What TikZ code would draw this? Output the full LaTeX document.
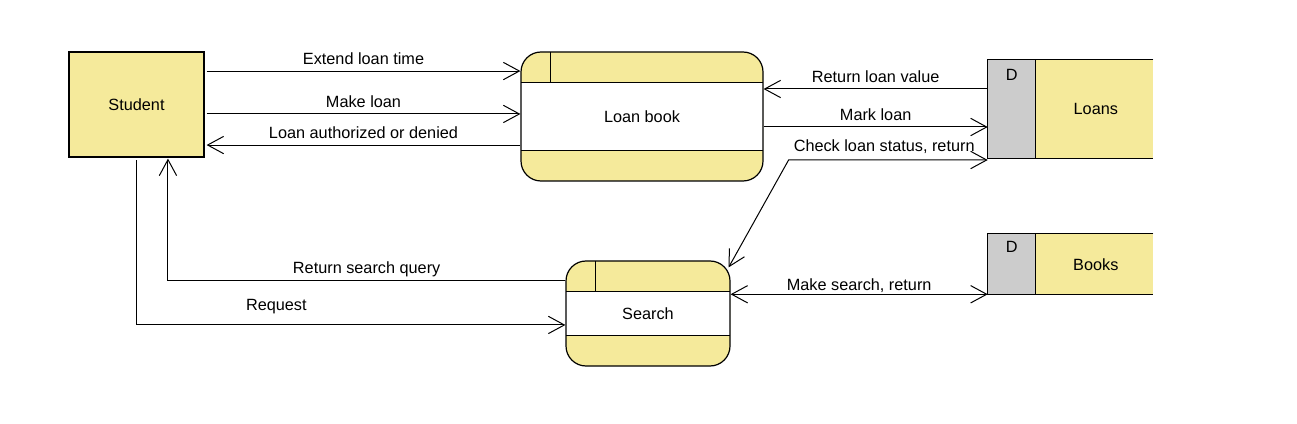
\documentclass[tikz,border=0pt]{standalone}
\usepackage{fontspec}
\setmainfont{Liberation Sans}
\usetikzlibrary{arrows.meta,calc}
\definecolor{yfill}{HTML}{F5EA9B}
\definecolor{gfill}{HTML}{CCCCCC}
\begin{document}
\begin{tikzpicture}[x=0.75pt,y=-0.75pt,
 every node/.style={font=\fontsize{12.2}{14}\selectfont},
 ent/.style={draw, fill=yfill, line width=0.9pt, inner sep=0pt},
 proc/.style={draw, fill=yfill, line width=0.9pt, rounded corners=15pt, inner sep=0pt,
   path picture={
     \fill[white, sharp corners] ([yshift=-23pt]path picture bounding box.north west) rectangle ([yshift=23pt]path picture bounding box.south east);
     \draw[line width=0.9pt, sharp corners] ([yshift=-23pt]path picture bounding box.north west) -- ([yshift=-23pt]path picture bounding box.north east);
     \draw[line width=0.9pt, sharp corners] ([yshift=23pt]path picture bounding box.south west) -- ([yshift=23pt]path picture bounding box.south east);
     \draw[line width=0.9pt, sharp corners] ([xshift=22pt]path picture bounding box.north west) -- ([xshift=22pt,yshift=-23pt]path picture bounding box.north west);
   }},
 store/.style={fill=yfill, inner sep=0pt, minimum width=123.75pt},
 sline/.style={line width=0.9pt},
 arr/.style={line width=0.75pt, -{Straight Barb[length=12pt,width=13pt]}},
 arrb/.style={line width=0.75pt, {Straight Barb[length=12pt,width=13pt]}-{Straight Barb[length=12pt,width=13pt]}},
 lbl/.style={above, inner sep=2pt, text height=9pt, text depth=2.5pt}
]
\useasboundingbox (0,0) rectangle (1297,424);

% entities and processes
\node[ent, minimum width=101.25pt, minimum height=78.75pt] (st) at (136.5,104.5) {Student};
\node[proc, minimum width=181.5pt, minimum height=96.75pt] (lb) at (642,116.5) {Loan book};
\node[proc, minimum width=123pt, minimum height=78.75pt] (se) at (648,313.5) {Search};

% data stores
\node[store, minimum height=73.5pt] (lo) at (1070.5,109) {};
\fill[gfill] (lo.north west) rectangle ([xshift=36pt]lo.south west);
\draw[sline] (lo.north east) -- (lo.north west) -- (lo.south west) -- (lo.south east);
\draw[sline] ([xshift=36pt]lo.north west) -- ([xshift=36pt]lo.south west);
\node (loD) at ([xshift=18pt,yshift=-11.25pt]lo.north west) {D};
\node (loT) at ([xshift=19pt]lo.center) {Loans};

\node[store, minimum height=45pt] (bo) at (1070.5,264) {};
\fill[gfill] (bo.north west) rectangle ([xshift=36pt]bo.south west);
\draw[sline] (bo.north east) -- (bo.north west) -- (bo.south west) -- (bo.south east);
\draw[sline] ([xshift=36pt]bo.north west) -- ([xshift=36pt]bo.south west);
\node (boD) at ([xshift=18pt,yshift=-9.75pt]bo.north west) {D};
\node (boT) at ([xshift=19pt,yshift=-0.75pt]bo.center) {Books};

% student <-> loan book
\draw[arr] ([xshift=1.5pt,yshift=25.1pt]st.east) -- node[lbl]{Extend loan time} ([yshift=25.1pt]st.east -| lb.west);
\draw[arr] ([xshift=1.5pt,yshift=-7.1pt]st.east) -- node[lbl]{Make loan} ([yshift=-7.1pt]st.east -| lb.west);
\draw[arr] ([yshift=-30.4pt]st.east -| lb.west) -- node[lbl]{Loan authorized or denied} ([xshift=1.5pt,yshift=-30.4pt]st.east);

% loan book <-> loans
\draw[arr] ([yshift=15pt]lo.west) -- node[lbl]{Return loan value} ([yshift=15pt]lo.west -| lb.east);
\draw[arr] ([yshift=-13.5pt]lo.west -| lb.east) -- node[lbl]{Mark loan} ([yshift=-13.5pt]lo.west);

% check loan status
\coordinate (ckA) at ([yshift=-38.25pt]lo.west);
\coordinate (ckB) at ([xshift=18.75pt]lb.east |- ckA);
\coordinate (seT) at ([xshift=-1.5pt,yshift=-5.25pt]se.north east);
\draw[arrb] (ckA) -- node[lbl,yshift=1.5pt,xshift=-3pt]{Check loan status, return} (ckB) -- (seT);

% search <-> student
\coordinate (stR) at ([xshift=23.6pt,yshift=-0.75pt]st.south);
\draw[arr] ([yshift=25.1pt]se.west) -- node[lbl]{Return search query} ([yshift=25.1pt]se.west -| stR) -- (stR);
\coordinate (rq) at ([yshift=-8.6pt]se.west);
\coordinate (stB) at ([yshift=-2pt]st.south);
\draw[arr] (stB) -- (stB |- rq) -- node[lbl, pos=0.326, yshift=6pt]{Request} (rq);

% search <-> books
\draw[arrb] (bo.south west -| se.east) -- node[lbl,yshift=-2.25pt]{Make search, return} (bo.south west);
\end{tikzpicture}
\end{document}
